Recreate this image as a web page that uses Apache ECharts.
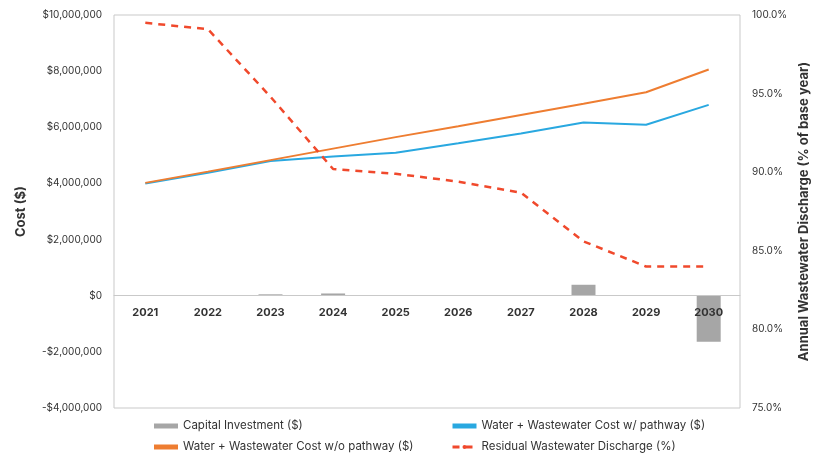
<!DOCTYPE html>
<html>
<head>
<meta charset="utf-8">
<script src="https://cdn.jsdelivr.net/npm/echarts@6/dist/echarts.min.js"></script>
<style>
  html, body { margin: 0; padding: 0; background: #fff; }
  #chart { width: 816px; height: 457px; }
</style>
</head>
<body>
<div id="chart"></div>
<script>
// years on the x axis
const years = ["2021", "2022", "2023", "2024", "2025", "2026", "2027", "2028", "2029", "2030"];
// capital investment bars ($)
const capitalInvestment = [0, 0, 50000, 80000, 10000, 0, 0, 390000, 0, -1640000];
// cost lines ($)
const costWithPathway = [4000000, 4380000, 4800000, 4960000, 5090000, 5430000, 5780000, 6170000, 6090000, 6800000];
const costWithoutPathway = [4020000, 4420000, 4830000, 5240000, 5650000, 6040000, 6440000, 6840000, 7250000, 8060000];
// residual discharge (% of base year)
const residualDischarge = [99.5, 99.1, 94.8, 90.2, 89.9, 89.4, 88.7, 85.6, 84.0, 84.0];

const textColor = "#333";
const fontFam = "Inter, 'Noto Sans', sans-serif";

function money(v) {
  const s = Math.abs(v).toLocaleString("en-US");
  return (v < 0 ? "-$" : "$") + s;
}

const legendText = { fontSize: 11.5, color: textColor, fontFamily: fontFam };

const chart = echarts.init(document.getElementById("chart"));
chart.setOption({
  animation: false,
  textStyle: { fontFamily: fontFam },
  grid: {
    left: 114, right: 76, top: 15, bottom: 49,
    outerBoundsMode: "none",
    show: true, borderColor: "#c9c9c9", borderWidth: 1
  },
  legend: [
    {
      left: 154, top: 420, orient: "vertical", itemGap: 9, padding: 0,
      itemWidth: 24, itemHeight: 5,
      textStyle: legendText,
      data: [
        { name: "Capital Investment ($)", icon: "rect" },
        { name: "Water + Wastewater Cost w/o pathway ($)", icon: "rect" }
      ]
    },
    {
      left: 451, top: 420, orient: "vertical", itemGap: 9, padding: 0,
      itemWidth: 24, itemHeight: 5,
      textStyle: legendText,
      data: [
        { name: "Water + Wastewater Cost w/ pathway ($)", icon: "rect" },
        { name: "Residual Wastewater Discharge (%)", lineStyle: { width: 3, type: [7, 6] } }
      ]
    }
  ],
  xAxis: {
    type: "category",
    data: years,
    z: 10,
    axisLine: { onZero: true, onZeroAxisIndex: 0, lineStyle: { color: "#c9c9c9", width: 1 } },
    axisTick: { show: false },
    // labels sit just under the $0 line
    axisLabel: { color: textColor, fontWeight: "bold", fontSize: 11, margin: -101 }
  },
  yAxis: [
    {
      type: "value",
      min: -4000000, max: 10000000, interval: 2000000,
      name: "Cost ($)",
      nameLocation: "middle", nameGap: 86, nameRotate: 90,
      nameTextStyle: { color: textColor, fontWeight: "bold", fontSize: 13 },
      axisLine: { show: false },
      axisTick: { show: false },
      splitLine: { show: false },
      axisLabel: { color: textColor, fontSize: 10, margin: 12, formatter: money }
    },
    {
      type: "value",
      min: 75, max: 100, interval: 5,
      name: "Annual Wastewater Discharge (% of base year)",
      nameLocation: "middle", nameGap: 57, nameRotate: 90,
      nameTextStyle: { color: textColor, fontWeight: "bold", fontSize: 13 },
      axisLine: { show: false },
      axisTick: { show: false },
      splitLine: { show: false },
      axisLabel: { color: textColor, fontSize: 10, margin: 12, formatter: v => v.toFixed(1) + "%" }
    }
  ],
  series: [
    {
      name: "Capital Investment ($)",
      type: "bar",
      yAxisIndex: 0,
      barWidth: 24,
      itemStyle: { color: "#a6a6a6" },
      data: capitalInvestment
    },
    {
      name: "Water + Wastewater Cost w/ pathway ($)",
      type: "line",
      yAxisIndex: 0,
      symbol: "none",
      lineStyle: { color: "#29a8e0", width: 2 },
      itemStyle: { color: "#29a8e0" },
      data: costWithPathway
    },
    {
      name: "Water + Wastewater Cost w/o pathway ($)",
      type: "line",
      yAxisIndex: 0,
      symbol: "none",
      lineStyle: { color: "#ee7d31", width: 2 },
      itemStyle: { color: "#ee7d31" },
      data: costWithoutPathway
    },
    {
      name: "Residual Wastewater Discharge (%)",
      type: "line",
      yAxisIndex: 1,
      symbol: "none",
      lineStyle: { color: "#f0492c", width: 2.5, type: [7, 6] },
      itemStyle: { color: "#f0492c" },
      data: residualDischarge
    }
  ]
});
</script>
</body>
</html>
